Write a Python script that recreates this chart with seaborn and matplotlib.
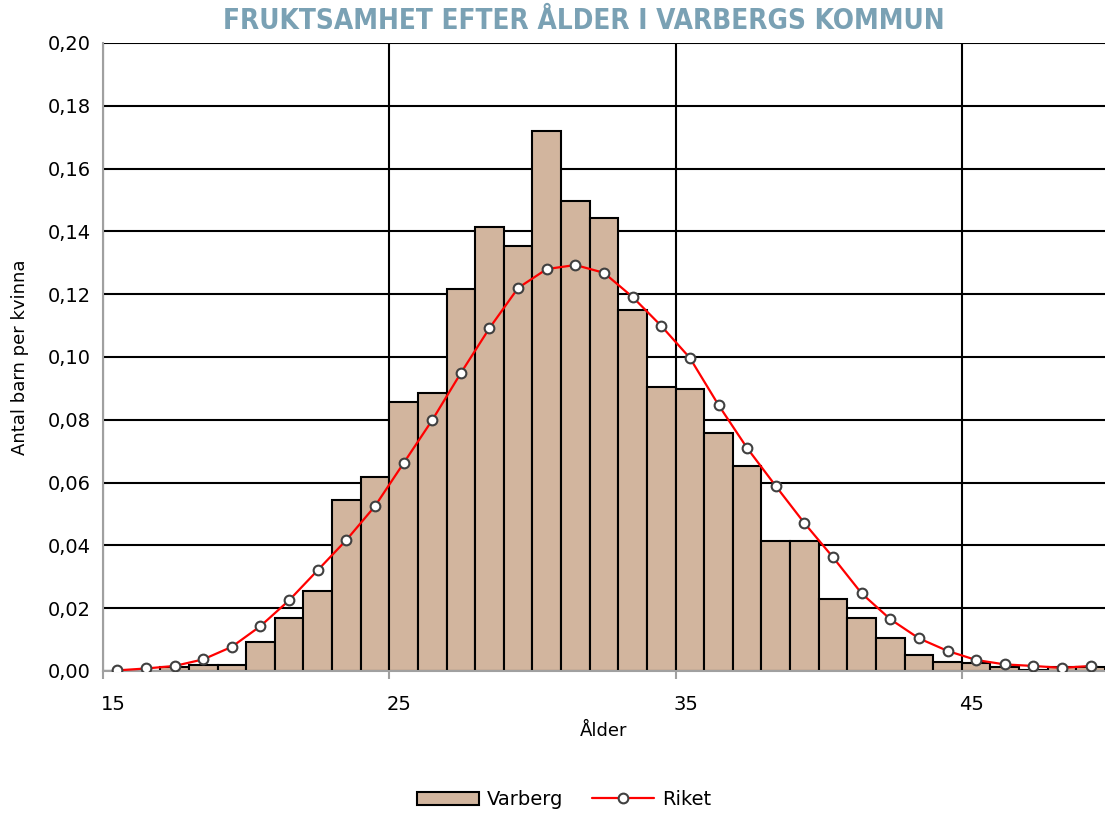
import numpy as np
import matplotlib
matplotlib.use("Agg")
import matplotlib.pyplot as plt
import matplotlib.ticker as mticker
import seaborn as sns

ages = list(range(15, 50))
varberg = [0.0, 0.0, 0.0013, 0.002, 0.002, 0.0093, 0.0169, 0.0256, 0.0545, 0.0618,
           0.0857, 0.0885, 0.1217, 0.1414, 0.1353, 0.172, 0.1497, 0.1442, 0.115, 0.0905,
           0.0897, 0.0757, 0.0653, 0.0414, 0.0414, 0.0228, 0.0168, 0.0106, 0.0051, 0.003,
           0.0025, 0.0014, 0.0004, 0.0012, 0.0012]
riket = [0.0002, 0.0008, 0.0016, 0.0037, 0.0077, 0.0143, 0.0225, 0.0321, 0.0417, 0.0525,
         0.0662, 0.0799, 0.0949, 0.1092, 0.122, 0.128, 0.1293, 0.1268, 0.1191, 0.1099,
         0.0997, 0.0847, 0.071, 0.0589, 0.0471, 0.0362, 0.0247, 0.0165, 0.0104, 0.0064,
         0.0035, 0.0021, 0.0016, 0.001, 0.0016]
tick_ages = [15, 25, 35, 45]

sns.set_style("white")
plt.rcParams['font.family'] = ['DejaVu Sans']
plt.rcParams['text.color'] = 'black'
plt.rcParams['axes.labelcolor'] = 'black'
plt.rcParams['xtick.color'] = 'black'
plt.rcParams['ytick.color'] = 'black'

fig = plt.figure(figsize=(11.05, 8.14), dpi=100)
ax = fig.add_axes([103 / 1105, 1 - 671 / 814, 1 - 103 / 1105, (671 - 43) / 814])

pos = np.arange(len(ages))
sns.barplot(x=pos, y=varberg, ax=ax, color="#d2b59e", width=1.0, saturation=1,
            edgecolor="black", linewidth=1.5, label="Varberg", native_scale=True, zorder=2)
sns.lineplot(x=pos, y=riket, ax=ax, color="red", linewidth=1.6, marker="o",
             markersize=7, markerfacecolor="white", markeredgecolor="#404040",
             markeredgewidth=1.5, label="Riket", zorder=3)

ax.set_xlim(-0.5, len(ages) - 0.5)
ax.set_ylim(0, 0.20)
ax.yaxis.set_major_locator(mticker.MultipleLocator(0.02))
ax.yaxis.set_major_formatter(mticker.FuncFormatter(lambda v, p: f"{v:.2f}".replace(".", ",")))
ax.set_xticks([ages.index(a) - 0.15 for a in tick_ages])
ax.set_xticklabels([str(a) for a in tick_ages])
ax.set_xticks([ages.index(a) - 0.5 for a in tick_ages[1:]] + [-0.5], minor=True)

ax.grid(axis="y", which="major", color="black", linewidth=1.5, zorder=0)
ax.grid(axis="x", which="minor", color="black", linewidth=1.5, zorder=0)
ax.grid(axis="x", which="major", visible=False)
ax.set_axisbelow(True)

for s in ["top", "right"]:
    ax.spines[s].set_visible(False)
for s in ["left", "bottom"]:
    ax.spines[s].set_color("#a0a0a0")
    ax.spines[s].set_linewidth(1.5)

ax.tick_params(axis="y", which="major", length=5, color="#a0a0a0", width=1.5, labelsize=14, pad=4)
ax.tick_params(axis="x", which="major", length=0, labelsize=14, pad=17)
ax.tick_params(axis="x", which="minor", length=6, color="#a0a0a0", width=1.5, bottom=True)

ax.set_xlabel("Ålder", fontsize=13, labelpad=6)
ax.set_ylabel("Antal barn per kvinna", fontsize=13, labelpad=13)

fig.text(0.528, 0.974, "FRUKTSAMHET EFTER ÅLDER I VARBERGS KOMMUN", ha="center", va="center",
         fontsize=20, fontweight="bold", color="#7aa1b4", fontstretch="condensed",
         family=["DejaVu Sans"])

handles, labels = ax.get_legend_handles_labels()
order = [labels.index("Varberg"), labels.index("Riket")]
ax.legend([handles[i] for i in order], [labels[i] for i in order],
          loc="center", bbox_to_anchor=(0.46, -0.205), ncol=2, frameon=False,
          fontsize=14, handlelength=3.2, handletextpad=0.4, columnspacing=1.5)

fig.savefig("out.png", dpi=100)
